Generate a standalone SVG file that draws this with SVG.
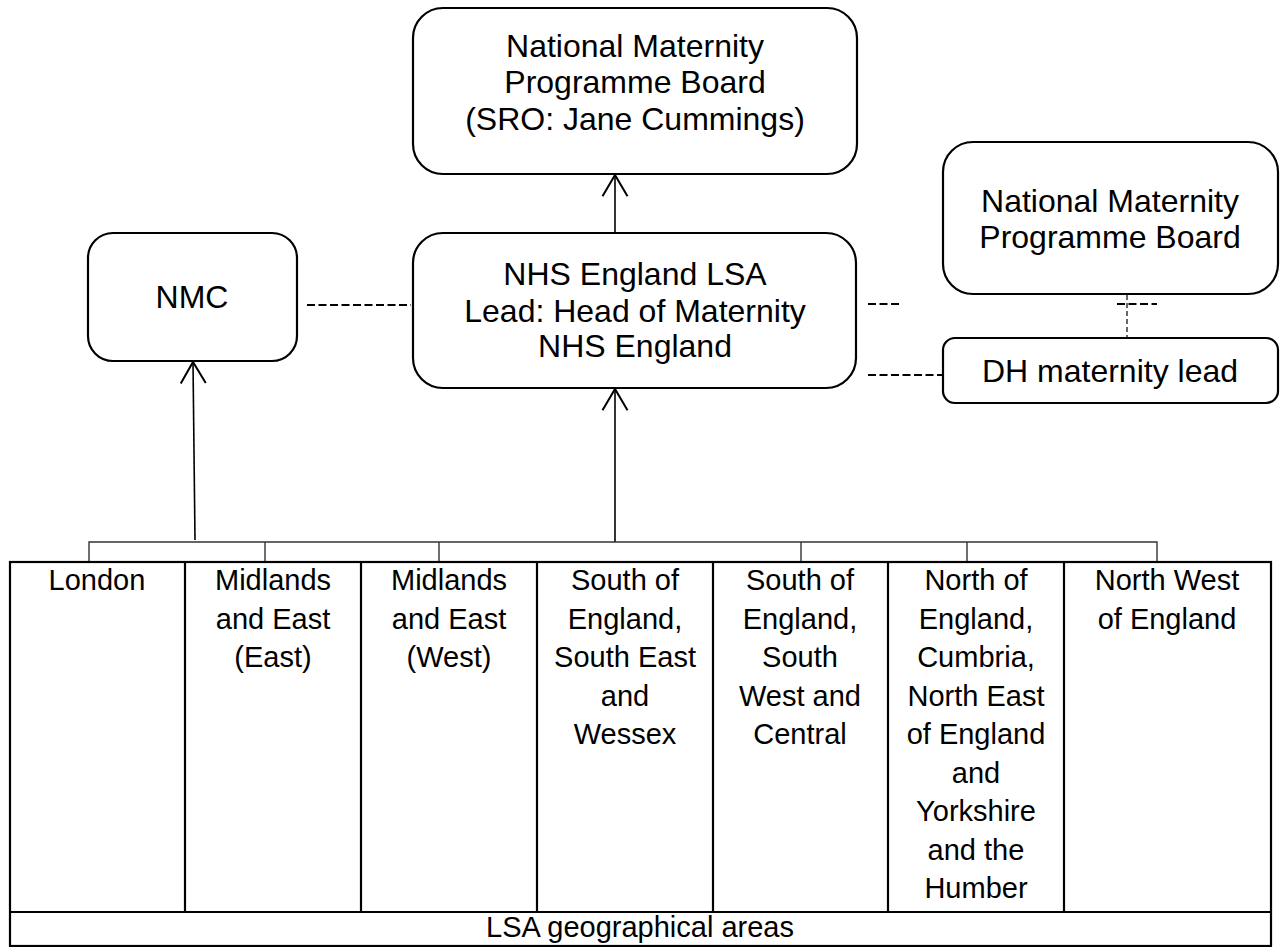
<svg xmlns="http://www.w3.org/2000/svg" width="1281" height="947" viewBox="0 0 1281 947">
<style>
.box{fill:#fff;stroke:#000;stroke-width:2.2}
.t{font-family:"Liberation Sans",Arial,sans-serif;font-size:29px;fill:#000;text-anchor:middle}
.bt{font-family:"Liberation Sans",Arial,sans-serif;font-size:32px;fill:#000;text-anchor:middle}
.cell{fill:none;stroke:#000;stroke-width:2.2}
.bus{fill:none;stroke:#333;stroke-width:1.4}
.arr{fill:none;stroke:#000;stroke-width:1.6;marker-end:url(#open)}
.dash{fill:none;stroke:#000;stroke-width:2;stroke-dasharray:8 3.5}
.dash2{fill:none;stroke:#000;stroke-width:1.2;stroke-dasharray:5 3}
</style>
<defs>
<marker id="open" markerUnits="userSpaceOnUse" markerWidth="30" markerHeight="30" viewBox="-20 -12 22 24" refX="0" refY="0" orient="auto">
<path d="M-17,-10 L0,0 L-17,10" fill="none" stroke="#000" stroke-width="1.6"/>
</marker>
</defs>
<rect width="1281" height="947" fill="#fff"/>

<g id="connectors">
<line class="arr" x1="615" y1="233" x2="615" y2="175"/>
<line class="arr" x1="615" y1="542" x2="615" y2="389"/>
<line class="arr" x1="195" y1="540" x2="193" y2="362"/>
<line class="dash" x1="307" y1="305" x2="411" y2="305"/>
<line class="dash" x1="868" y1="304" x2="899" y2="304"/>
<line class="dash" x1="868" y1="375" x2="943" y2="375"/>
<line class="dash2" x1="1127" y1="295" x2="1127" y2="338"/>
<line class="dash" x1="1117" y1="304" x2="1157" y2="304"/>
<path class="bus" d="M89,561 V542 H1157 V561 M265,542 V561 M439,542 V561 M801,542 V561 M967,542 V561"/>
</g>

<g id="board">
<rect class="box" x="413" y="8" width="444" height="166" rx="30"/>
<text class="bt" x="635" y="57">National Maternity</text>
<text class="bt" x="635" y="93">Programme Board</text>
<text class="bt" x="635" y="130">(SRO: Jane Cummings)</text>
</g>

<g id="nhs">
<rect class="box" x="413" y="233" width="443" height="155" rx="30"/>
<text class="bt" x="635" y="285">NHS England LSA</text>
<text class="bt" x="635" y="322">Lead: Head of Maternity</text>
<text class="bt" x="635" y="357">NHS England</text>
</g>

<g id="nmc">
<rect class="box" x="88" y="233" width="209" height="128" rx="25"/>
<text class="bt" x="192" y="308">NMC</text>
</g>

<g id="board2">
<rect class="box" x="943" y="142" width="335" height="152" rx="30"/>
<text class="bt" x="1110" y="212">National Maternity</text>
<text class="bt" x="1110" y="248">Programme Board</text>
</g>

<g id="dh">
<rect class="box" x="943" y="338" width="335" height="65" rx="12"/>
<text class="bt" x="1110" y="382">DH maternity lead</text>
</g>

<g id="table">
<rect class="cell" x="10" y="562" width="1261" height="384"/>
<path class="cell" d="M10,912 H1271 M185,562 V912 M361,562 V912 M537,562 V912 M713,562 V912 M888,562 V912 M1064,562 V912"/>
<text class="t" x="97" y="590">London</text>
<text class="t" x="273" y="590">Midlands</text>
<text class="t" x="273" y="628.5">and East</text>
<text class="t" x="273" y="667">(East)</text>
<text class="t" x="449" y="590">Midlands</text>
<text class="t" x="449" y="628.5">and East</text>
<text class="t" x="449" y="667">(West)</text>
<text class="t" x="625" y="590">South of</text>
<text class="t" x="625" y="628.5">England,</text>
<text class="t" x="625" y="667">South East</text>
<text class="t" x="625" y="705.5">and</text>
<text class="t" x="625" y="744">Wessex</text>
<text class="t" x="800" y="590">South of</text>
<text class="t" x="800" y="628.5">England,</text>
<text class="t" x="800" y="667">South</text>
<text class="t" x="800" y="705.5">West and</text>
<text class="t" x="800" y="744">Central</text>
<text class="t" x="976" y="590">North of</text>
<text class="t" x="976" y="628.5">England,</text>
<text class="t" x="976" y="667">Cumbria,</text>
<text class="t" x="976" y="705.5">North East</text>
<text class="t" x="976" y="744">of England</text>
<text class="t" x="976" y="782.5">and</text>
<text class="t" x="976" y="821">Yorkshire</text>
<text class="t" x="976" y="859.5">and the</text>
<text class="t" x="976" y="898">Humber</text>
<text class="t" x="1167" y="590">North West</text>
<text class="t" x="1167" y="628.5">of England</text>
<text class="t" x="640" y="937">LSA geographical areas</text>
</g>
</svg>
